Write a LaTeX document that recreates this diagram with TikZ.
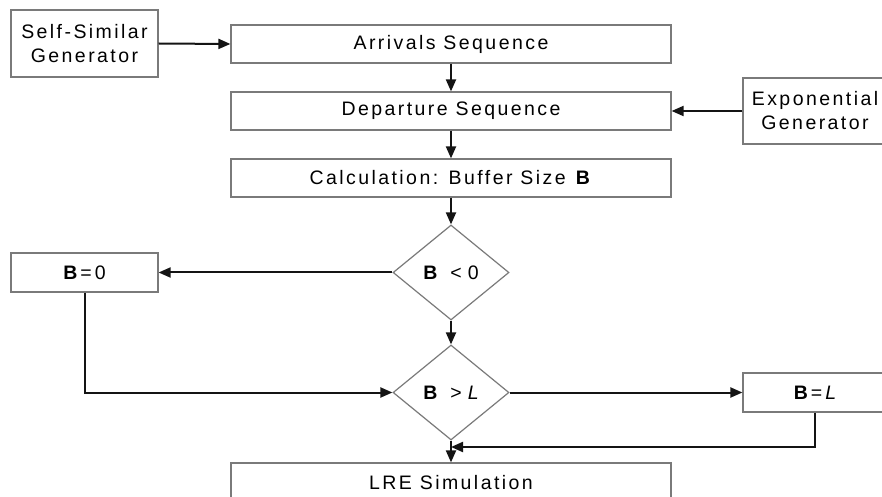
\documentclass[tikz,border=0pt]{standalone}
\usepackage{fontspec}
\setmainfont{Liberation Sans}[LetterSpace=12.5]
\newfontfamily\plainsans{Liberation Sans}
\usetikzlibrary{shapes.geometric,arrows.meta}
\definecolor{boxgray}{HTML}{7A7A7A}
\tikzset{
  base/.style={draw=boxgray,line width=1.2bp,inner sep=0pt,align=center,
    font=\fontsize{19.5bp}{24bp}\selectfont,text=black},
  box/.style={base,rectangle,minimum height=38bp},
  dia/.style={base,diamond,minimum width=116bp,minimum height=95bp},
  conn/.style={draw=black!92,line width=2bp,-{Triangle[length=12bp,width=10bp]}}
}
\newcommand{\relsep}[3]{{\plainsans\textbf{B}\kern#1bp #2\kern#3bp}}
\begin{document}
\begin{tikzpicture}[x=1bp,y=-1bp]
\clip (0,0) rectangle (882,497);
\fill[white] (0,0) rectangle (882,497);
\node[box,minimum width=147bp,minimum height=67bp] (ss) at (84.5,43.5) {Self-Similar\\Generator};
\node[box,minimum width=440bp] (arr) at (451,44) {Arrivals Sequence};
\node[box,minimum width=440bp] (dep) at (451,111) {Departure Sequence};
\node[box,minimum width=440bp] (calc) at (451,178) {Calculation: Buffer Size \textbf{B}};
\node[box,minimum width=144bp,minimum height=66bp] (exp) at (815,111) {Exponential\\Generator};
\node[dia] (d1) at (451,272.5) {\relsep{13}{<}{6}{\plainsans 0}};
\node[box,minimum width=147bp,minimum height=39bp] (b0) at (84.5,272.5) {\relsep{3}{=}{3}{\plainsans 0}};
\node[dia] (d2) at (451,392.5) {\relsep{13}{>}{6}{\plainsans\itshape L}};
\node[box,minimum width=144bp,minimum height=39bp] (bl) at (815,392.5) {\relsep{3}{=}{3}{\plainsans\itshape L}};
\node[box,minimum width=440bp,minimum height=40bp] (lre) at (451,483) {LRE Simulation};
\coordinate (fb) at (451,447);
\draw[conn] (ss.east) -- (arr.west);
\draw[conn] (arr.south) -- (dep.north);
\draw[conn] (dep.south) -- (calc.north);
\draw[conn] (exp.west) -- (dep.east);
\draw[conn] (calc.south) -- (d1.north);
\draw[conn] (d1.west) -- (b0.east);
\draw[conn] (d1.south) -- (d2.north);
\draw[conn] (b0.south) |- (d2.west);
\draw[conn] (d2.east) -- (bl.west);
\draw[conn] (d2.south) -- (lre.north);
\draw[conn] (bl.south) |- (fb);
\end{tikzpicture}
\end{document}
